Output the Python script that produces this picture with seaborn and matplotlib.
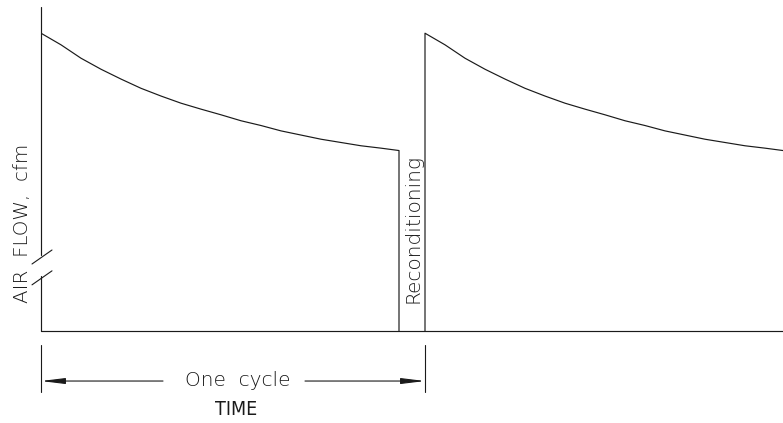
import matplotlib
matplotlib.use("Agg")
import matplotlib.pyplot as plt
import numpy as np
import pandas as pd
import seaborn as sns

# Air-flow decay over one operating period (time units, flow in % of peak)
decay_time = [0, 1, 2, 3, 4, 5, 6, 7, 8, 9, 10, 11, 12, 13, 14, 15, 16, 17, 17.9]
decay_flow = [100.0, 96.1, 91.6, 87.9, 84.6, 81.5, 78.9, 76.5, 74.5, 72.6,
              70.6, 69.0, 67.2, 65.8, 64.4, 63.3, 62.2, 61.4, 60.6]
cycle_length = 19.2          # operating period + reconditioning
recondition_start = 17.9
flow_top = 108.8

sns.set_style("white")
plt.rcParams["font.family"] = ["DejaVu Sans"]
ink = "#1a1a1a"

# Build both cycles: cycle 1 decays then drops to zero, cycle 2 rises again
t1 = list(decay_time) + [recondition_start]
f1 = list(decay_flow) + [0.0]
t2 = [cycle_length] + [cycle_length + t for t in decay_time]
f2 = [0.0] + list(decay_flow)
df = pd.DataFrame({
    "time": t1 + t2,
    "flow": f1 + f2,
    "cycle": ["first"] * len(t1) + ["second"] * len(t2),
})

fig = plt.figure(figsize=(7.83, 4.23), dpi=100)
W, H = 783, 423
ax = fig.add_axes([41 / W, (H - 331) / H, 1 - 41 / W, (331 - 7) / H])

sns.lineplot(data=df, x="time", y="flow", units="cycle", estimator=None,
             sort=False, color=ink, lw=0.85, ax=ax, legend=False)

xmax = cycle_length + decay_time[-1]
ax.set_xlim(0, xmax)
ax.set_ylim(0, flow_top)
ax.set_xticks([])
ax.set_yticks([])
ax.set_xlabel("")
ax.set_ylabel("")
for s in ax.spines.values():
    s.set_visible(False)

# axes drawn by hand: x axis plus a broken y axis
ax.plot([0, xmax], [0, 0], color=ink, lw=0.85, clip_on=False)
ax.plot([0, 0], [25.5, flow_top], color=ink, lw=0.85, clip_on=False)
ax.plot([0, 0], [0, 18.5], color=ink, lw=0.85, clip_on=False)
ax.plot([-0.45, 0.55], [22.5, 27.2], color=ink, lw=0.8, clip_on=False)
ax.plot([-0.45, 0.55], [15.5, 20.2], color=ink, lw=0.8, clip_on=False)

ax.text(-0.92, 36.3, "AIR  FLOW,  cfm", rotation=90, ha="center", va="center",
        fontsize=14.3, color=ink, fontweight="light", clip_on=False)
ax.text(18.6, 34.6, "Reconditioning", rotation=90, ha="center", va="center",
        fontsize=14.5, color=ink, fontweight="light")

# dimension line for one cycle
for xv in (0, cycle_length):
    ax.plot([xv, xv], [-4.7, -20.5], color=ink, lw=0.8, clip_on=False)
arrow_kw = dict(arrowstyle="-|>,head_length=1.3,head_width=0.16",
                mutation_scale=11, color=ink, lw=0.8, shrinkA=0, shrinkB=0)
ax.annotate("", xy=(0, -16.8), xytext=(6.1, -16.8),
            arrowprops=arrow_kw, annotation_clip=False)
ax.annotate("", xy=(cycle_length, -16.8), xytext=(13.2, -16.8),
            arrowprops=arrow_kw, annotation_clip=False)
ax.text(9.85, -16.6, "One  cycle", ha="center", va="center", fontsize=14.5,
        color=ink, fontweight="light", clip_on=False)
ax.text(9.78, -26.2, "TIME", ha="center", va="center", fontsize=14,
        color=ink, fontweight="light", fontstretch="condensed", clip_on=False)

fig.savefig("out.png", dpi=100)
